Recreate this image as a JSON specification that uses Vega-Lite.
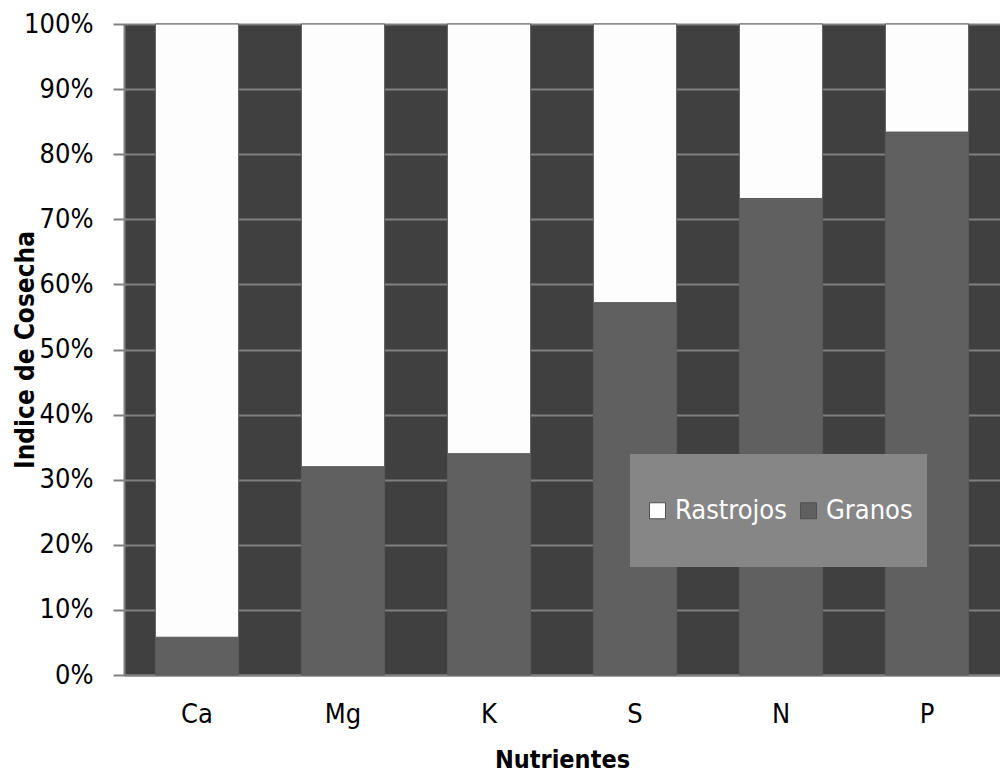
{
  "$schema": "https://vega.github.io/schema/vega-lite/v6.json",
  "autosize": {"type": "none"},
  "width": 876,
  "height": 651,
  "padding": {"left": 124, "top": 24, "right": 0, "bottom": 105},
  "background": "#ffffff",
  "config": {
    "font": "DejaVu Sans Condensed, DejaVu Sans, sans-serif",
    "view": {"stroke": null, "fill": "#404040"}
  },
  "data": {
    "values": [
      {"nutriente": "Ca", "serie": "Granos", "valor": 5.8},
      {"nutriente": "Ca", "serie": "Rastrojos", "valor": 94.2},
      {"nutriente": "Mg", "serie": "Granos", "valor": 32},
      {"nutriente": "Mg", "serie": "Rastrojos", "valor": 68},
      {"nutriente": "K", "serie": "Granos", "valor": 34},
      {"nutriente": "K", "serie": "Rastrojos", "valor": 66},
      {"nutriente": "S", "serie": "Granos", "valor": 57.2},
      {"nutriente": "S", "serie": "Rastrojos", "valor": 42.8},
      {"nutriente": "N", "serie": "Granos", "valor": 73.2},
      {"nutriente": "N", "serie": "Rastrojos", "valor": 26.8},
      {"nutriente": "P", "serie": "Granos", "valor": 83.4},
      {"nutriente": "P", "serie": "Rastrojos", "valor": 16.6}
    ]
  },
  "mark": {"type": "bar", "stroke": "#5a5a5a", "strokeWidth": 1},
  "encoding": {
    "x": {
      "field": "nutriente",
      "type": "nominal",
      "sort": ["Ca", "Mg", "K", "S", "N", "P"],
      "scale": {"paddingInner": 0.43, "paddingOuter": 0.215},
      "axis": {
        "title": "Nutrientes",
        "titleFontSize": 25,
        "titleFontWeight": "bold",
        "titleColor": "#000000",
        "titlePadding": 20,
        "labelAngle": 0,
        "labelFontSize": 27,
        "labelColor": "#000000",
        "labelPadding": 26,
        "ticks": false,
        "domainColor": "#808080",
        "domainWidth": 2
      }
    },
    "y": {
      "field": "valor",
      "type": "quantitative",
      "stack": "zero",
      "scale": {"domain": [0, 100], "nice": false},
      "axis": {
        "title": "Indice de Cosecha",
        "titleFontSize": 26,
        "titleFontWeight": "bold",
        "titleColor": "#000000",
        "titleX": -99,
        "titleBaseline": "middle",
        "values": [0, 10, 20, 30, 40, 50, 60, 70, 80, 90, 100],
        "labelExpr": "datum.value + '%'",
        "labelFontSize": 27,
        "labelColor": "#000000",
        "labelPadding": 20,
        "tickSize": 11,
        "tickColor": "#808080",
        "tickWidth": 2,
        "domainColor": "#808080",
        "domainWidth": 2,
        "grid": true,
        "gridColor": "#808080",
        "gridWidth": 2
      }
    },
    "color": {
      "field": "serie",
      "type": "nominal",
      "scale": {"domain": ["Rastrojos", "Granos"], "range": ["#fdfdfd", "#606060"]},
      "legend": {
        "title": null,
        "orient": "none",
        "direction": "horizontal",
        "legendX": 506,
        "legendY": 430,
        "fillColor": "#868686",
        "padding": 14,
        "labelExpr": "['', datum.label, '']",
        "labelFontSize": 27,
        "labelLineHeight": 29,
        "labelColor": "#ffffff",
        "symbolType": "M-1,2.625H1V4.625H-1Z",
        "symbolSize": 256,
        "symbolStrokeColor": "#505050",
        "symbolStrokeWidth": 1,
        "columnPadding": 8,
        "labelOffset": 4
      }
    },
    "order": {"field": "serie", "sort": "ascending"}
  }
}
